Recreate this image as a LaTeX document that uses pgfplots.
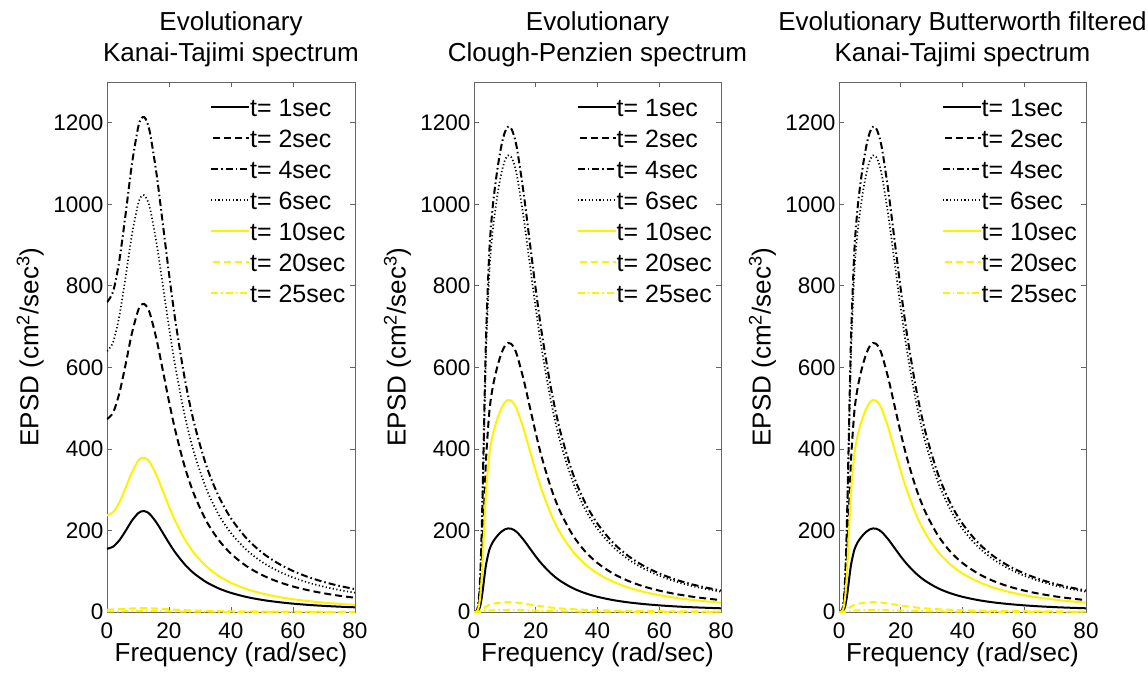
\documentclass[border=0pt]{standalone}
\usepackage{fontspec}
\setmainfont{Liberation Sans}
\usepackage{pgfplots}
\pgfplotsset{compat=1.18}
\usepackage{pgfplotstable}

\pgfplotstableread{
w t1 t2 t4 t6 t10 t20 t25
0 155 473 760 640 237 6 1.5
2 160.5 489.6 786.8 662.5 245.3 6.2 1.55
4 176.0 537.2 863.2 726.9 269.2 6.8 1.7
6 199.0 607.2 975.7 821.6 304.3 7.7 1.9
8 223.6 682.5 1096.6 923.5 342.0 8.7 2.2
10 242.1 738.8 1187.1 999.7 370.2 9.4 2.3
11 246.7 752.9 1209.8 1018.8 377.3 9.6 2.4
12 247.6 755.6 1214.1 1022.4 378.6 9.6 2.4
13 244.8 747.0 1200.2 1010.7 374.3 9.5 2.4
14 238.6 728.2 1170.0 985.3 364.9 9.2 2.3
16 218.9 668.1 1073.5 904.0 334.8 8.5 2.1
18 194.3 593.0 952.7 802.3 297.1 7.5 1.9
20 169.3 516.6 830.0 698.9 258.8 6.6 1.6
22 146.3 446.4 717.3 604.0 223.7 5.7 1.4
25 117.5 358.4 575.9 485.0 179.6 4.5 1.1
28 95.2 290.4 466.6 392.9 145.5 3.7 0.9
32 73.4 223.9 359.8 303.0 112.2 2.8 0.7
36 58.0 177.0 284.3 239.4 88.7 2.2 0.6
40 46.9 143.0 229.7 193.5 71.6 1.8 0.5
45 36.9 112.5 180.8 152.3 56.4 1.4 0.4
50 29.7 90.8 145.8 122.8 45.5 1.2 0.3
55 24.5 74.7 120.1 101.1 37.4 0.9 0.2
60 20.5 62.6 100.6 84.7 31.4 0.8 0.2
65 17.4 53.2 85.5 72.0 26.7 0.7 0.2
70 15.0 45.8 73.6 62.0 22.9 0.6 0.1
75 13.1 39.8 64.0 53.9 20.0 0.5 0.1
80 11.5 35.0 56.2 47.3 17.5 0.4 0.1
}\kt

\pgfplotstableread{
w t1 t2 t4 t6 t10 t20 t25
0 0 0 0 0 0 0 0
1 0.9 2.8 5.0 4.7 2.2 0.1 0.0
1.5 4.5 14.6 26.3 24.8 11.5 0.5 0.1
2 14.7 47.3 85.2 80.2 37.2 1.7 0.4
2.5 34.6 111.4 200.9 189.1 87.8 4.1 0.8
3 63.3 203.9 367.7 346.1 160.7 7.4 1.5
3.5 94.3 303.5 547.2 515.0 239.1 11.0 2.3
4 120.5 388.1 699.7 658.6 305.8 14.1 2.9
5 153.3 493.7 890.1 837.8 389.0 18.0 3.7
6 170.4 548.5 988.9 930.7 432.1 19.9 4.2
7 181.6 584.8 1054.3 992.3 460.7 21.3 4.4
8 190.7 613.8 1106.7 1041.6 483.6 22.3 4.7
9 197.8 636.9 1148.4 1080.8 501.8 23.2 4.8
10 202.7 652.7 1176.9 1107.7 514.3 23.7 4.9
11 205.0 660.0 1190.0 1120.0 520.0 24.0 5.0
12 204.4 658.0 1186.4 1116.6 518.4 23.9 5.0
13 201.1 647.5 1167.4 1098.7 510.1 23.5 4.9
14 195.2 628.3 1132.9 1066.2 495.0 22.8 4.8
16 177.7 572.2 1031.7 971.0 450.8 20.8 4.3
18 157.0 505.6 911.5 857.9 398.3 18.4 3.8
20 136.3 438.9 791.4 744.8 345.8 16.0 3.3
22 117.5 378.2 681.9 641.8 298.0 13.8 2.9
25 94.1 302.9 546.2 514.1 238.7 11.0 2.3
28 76.1 244.9 441.5 415.5 192.9 8.9 1.9
32 58.5 188.4 339.7 319.8 148.5 6.9 1.4
36 46.2 148.6 268.0 252.2 117.1 5.4 1.1
40 37.3 120.1 216.5 203.7 94.6 4.4 0.9
45 29.3 94.4 170.2 160.2 74.4 3.4 0.7
50 23.6 76.1 137.2 129.1 60.0 2.8 0.6
55 19.5 62.6 112.9 106.3 49.3 2.3 0.5
60 16.3 52.5 94.6 89.0 41.3 1.9 0.4
65 13.8 44.6 80.3 75.6 35.1 1.6 0.3
70 11.9 38.3 69.0 65.0 30.2 1.4 0.3
75 10.4 33.3 60.1 56.6 26.3 1.2 0.3
80 9.1 29.2 52.7 49.6 23.0 1.1 0.2
}\cp

\pgfplotsset{
  panel/.style={
    scale only axis, width=248pt, height=530pt, anchor=south west,
    xmin=0, xmax=80, ymin=0, ymax=1300,
    xtick={0,20,40,60,80}, ytick={0,200,400,600,800,1000,1200},
    axis line style={black!60, line width=0.7pt},
    tick style={black!60, line width=0.7pt},
    major tick length=5pt,
    /pgf/number format/assume math mode=true,
    /pgf/number format/1000 sep={},
    tick label style={font=\fontsize{22.5}{27}\selectfont},
    xticklabel style={yshift=-7pt},
    label style={font=\fontsize{26}{31}\selectfont},
    title style={font=\fontsize{26}{31}\selectfont, align=center, at={(0.5,1.069)}, anchor=center},
    xlabel={Frequency (rad/sec)},
    ylabel={EPSD (cm\textsuperscript{2}/sec\textsuperscript{3})},
    xlabel style={at={(0.5,-0.081)}, anchor=center},
    ylabel style={at={(-0.31,0.5)}, anchor=center},
    legend style={draw=none, fill=none, at={(0.415,0.969)}, anchor=north west,
      font=\fontsize{25}{30}\selectfont, row sep=13pt, inner sep=0pt,
      nodes={inner sep=0pt, text height=18pt, text depth=0pt}},
    legend cell align=left,
  },
  s1/.style={black, line width=2pt, smooth},
  s2/.style={black, line width=2pt, smooth, dash pattern=on 7pt off 4pt},
  s3/.style={black, line width=2pt, smooth, dash pattern=on 7pt off 3pt on 1.5pt off 3pt},
  s4/.style={black, line width=1.7pt, smooth, dash pattern=on 1.2pt off 2.4pt},
  s5/.style={yellow, line width=2pt, smooth},
  s6/.style={yellow, line width=2pt, smooth, dash pattern=on 7pt off 4pt},
  s7/.style={yellow, line width=2pt, smooth, dash pattern=on 7pt off 3pt on 1.5pt off 3pt},
  l1/.style={legend image code/.code={\draw[black, line width=2pt] (0pt,0.3pt) -- (38pt,0.3pt);}},
  l2/.style={legend image code/.code={\draw[black, line width=2pt, dash pattern=on 7pt off 4pt] (2pt,0.3pt) -- (38pt,0.3pt);}},
  l3/.style={legend image code/.code={\draw[black, line width=2pt, dash pattern=on 7pt off 3pt on 1.5pt off 3pt] (0pt,0.3pt) -- (38pt,0.3pt);}},
  l4/.style={legend image code/.code={\draw[black, line width=1.7pt, dash pattern=on 1.2pt off 2.4pt] (0pt,0.3pt) -- (38pt,0.3pt);}},
  l5/.style={legend image code/.code={\draw[yellow, line width=2pt] (0pt,0.3pt) -- (38pt,0.3pt);}},
  l6/.style={legend image code/.code={\draw[yellow, line width=2pt, dash pattern=on 7pt off 4pt] (2pt,0.3pt) -- (38pt,0.3pt);}},
  l7/.style={legend image code/.code={\draw[yellow, line width=2pt, dash pattern=on 7pt off 3pt on 1.5pt off 3pt] (0pt,0.3pt) -- (38pt,0.3pt);}},
}

\begin{document}
\begin{tikzpicture}
\path[use as bounding box] (0,0) rectangle (1148pt,673pt);

\begin{axis}[panel, at={(107pt,61pt)}, title={Evolutionary\\Kanai-Tajimi spectrum}]
\addplot[s1, l1] table[x=w,y=t1] {\kt};
\addplot[s2, l2] table[x=w,y=t2] {\kt};
\addplot[s3, l3] table[x=w,y=t4] {\kt};
\addplot[s4, l4] table[x=w,y=t6] {\kt};
\addplot[s5, l5] table[x=w,y=t10] {\kt};
\addplot[s6, l6] table[x=w,y=t20] {\kt};
\addplot[s7, l7] table[x=w,y=t25] {\kt};
\legend{t= 1sec, t= 2sec, t= 4sec, t= 6sec, t= 10sec, t= 20sec, t= 25sec}
\end{axis}

\begin{axis}[panel, width=247pt, at={(474pt,61pt)}, title={Evolutionary\\Clough-Penzien spectrum}]
\addplot[s1, l1] table[x=w,y=t1] {\cp};
\addplot[s2, l2] table[x=w,y=t2] {\cp};
\addplot[s3, l3] table[x=w,y=t4] {\cp};
\addplot[s4, l4] table[x=w,y=t6] {\cp};
\addplot[s5, l5] table[x=w,y=t10] {\cp};
\addplot[s6, l6] table[x=w,y=t20] {\cp};
\addplot[s7, l7] table[x=w,y=t25] {\cp};
\legend{t= 1sec, t= 2sec, t= 4sec, t= 6sec, t= 10sec, t= 20sec, t= 25sec}
\end{axis}

\begin{axis}[panel, width=247pt, at={(839pt,61pt)}, title={Evolutionary Butterworth filtered\\Kanai-Tajimi spectrum}]
\addplot[s1, l1] table[x=w,y=t1] {\cp};
\addplot[s2, l2] table[x=w,y=t2] {\cp};
\addplot[s3, l3] table[x=w,y=t4] {\cp};
\addplot[s4, l4] table[x=w,y=t6] {\cp};
\addplot[s5, l5] table[x=w,y=t10] {\cp};
\addplot[s6, l6] table[x=w,y=t20] {\cp};
\addplot[s7, l7] table[x=w,y=t25] {\cp};
\legend{t= 1sec, t= 2sec, t= 4sec, t= 6sec, t= 10sec, t= 20sec, t= 25sec}
\end{axis}
\end{tikzpicture}
\end{document}
